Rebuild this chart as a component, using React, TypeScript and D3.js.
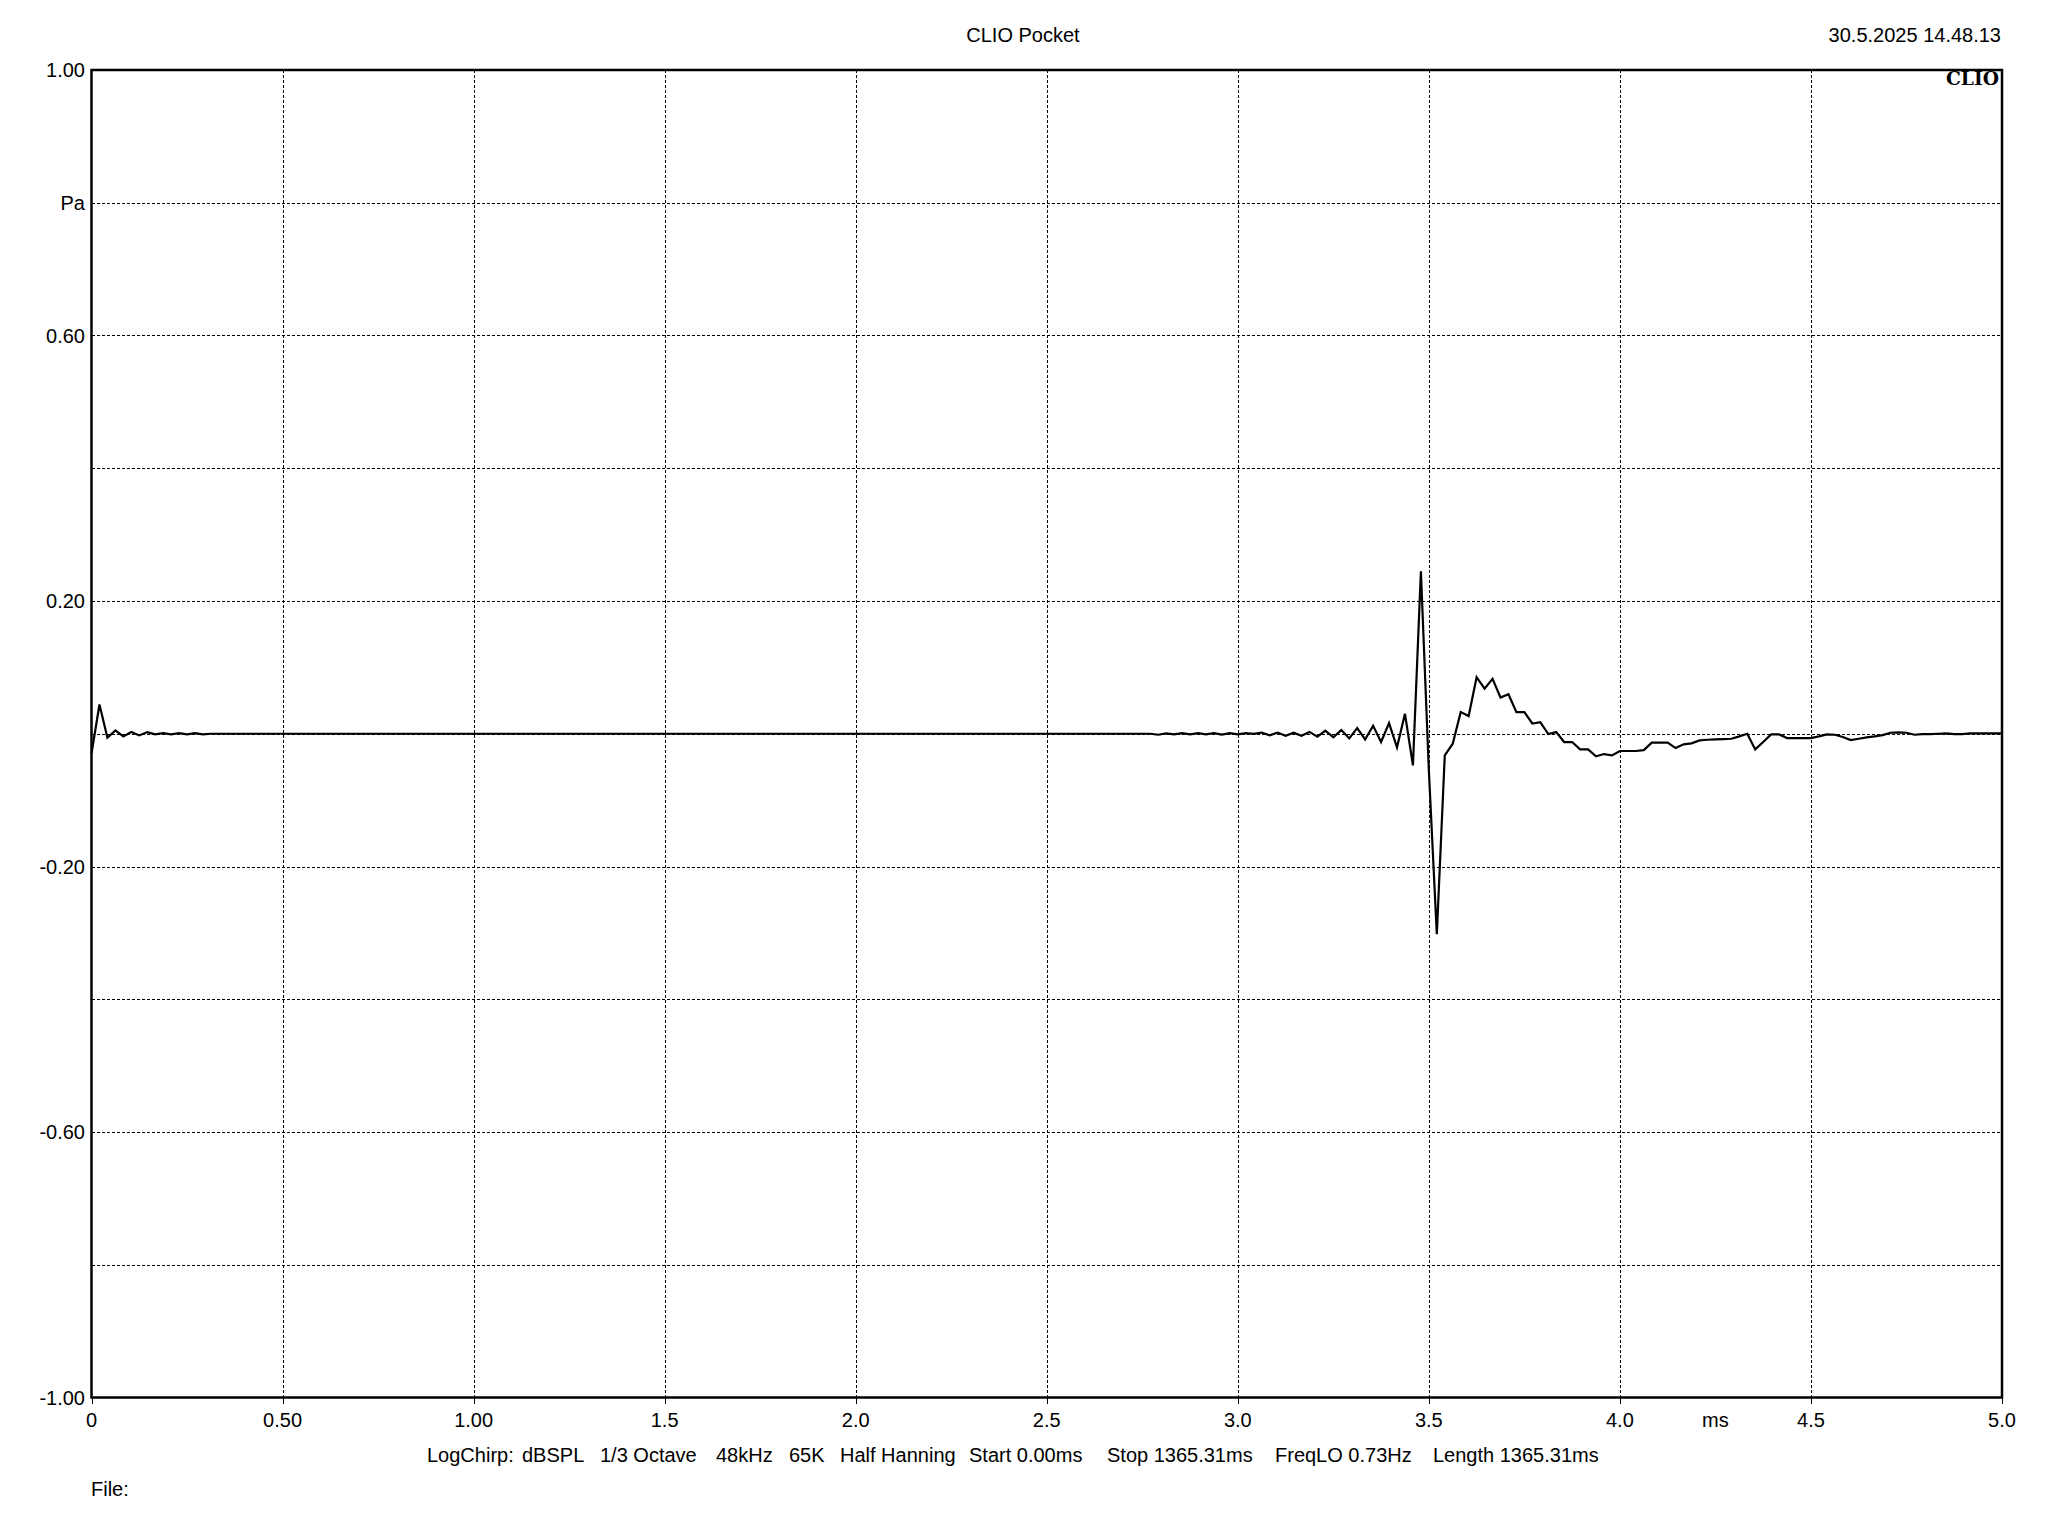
import React, { useEffect, useRef } from "react";
import * as d3 from "d3";

// sample clock of the measurement (48 kHz -> 48 samples per ms)
const samplesPerMs = 48;

// first samples of the impulse (n = 0..15), Pa
const headPa = [
  -0.03, 0.044, -0.006, 0.005, -0.004, 0.0025, -0.0025, 0.0025, -0.001, 0.001,
  -0.001, 0.001, -0.001, 0.001, -0.001, 0,
];

// main arrival, starting at sample 133, Pa
const tailStart = 133;
const tailPa = [
  0, -0.0015, 0.0005, -0.0008, 0.0008, -0.001, 0.0008, -0.001, 0.001, -0.0012,
  0.0008, -0.0008, 0.001, -0.0002, 0.0018, -0.0025, 0.0018, -0.003, 0.0015, -0.003,
  0.0028, -0.0043, 0.0048, -0.0053, 0.0055, -0.007, 0.0085, -0.0085, 0.012, -0.0125,
  0.016, -0.0205, 0.03, -0.0476, 0.2446, -0.055, -0.302, -0.0326, -0.015, 0.0326,
  0.0266, 0.0852, 0.068, 0.0827, 0.0546, 0.0596, 0.0326, 0.0326, 0.0155, 0.0175,
  -0.0005, 0.0025, -0.0125, -0.0125, -0.0236, -0.0236, -0.0341, -0.0306, -0.0326, -0.026,
  -0.026, -0.026, -0.0246, -0.0135, -0.0135, -0.0135, -0.0216, -0.016, -0.0145, -0.01,
  -0.009, -0.0085, -0.008, -0.0075, -0.004, 0, -0.0236, -0.0125, -0.001, -0.001,
  -0.0065, -0.0065, -0.0065, -0.0065, -0.004, -0.001, -0.0015, -0.005, -0.0095, -0.0075,
  -0.0055, -0.004, -0.002, 0.0015, 0.002, 0.0015, -0.0015, -0.0005, -0.0005, 0,
  0.0005, -0.0005, -0.0005, 0.0005, 0.0005, 0.0005, 0.0005, 0.0005,
];

const yTicks = [1, 0.8, 0.6, 0.4, 0.2, 0, -0.2, -0.4, -0.6, -0.8, -1];
const yLabels = ["1.00", "Pa", "0.60", "", "0.20", "", "-0.20", "", "-0.60", "", "-1.00"];
const xTicks = [0, 0.5, 1, 1.5, 2, 2.5, 3, 3.5, 4, 4.5, 5];
const xLabels = ["0", "0.50", "1.00", "1.5", "2.0", "2.5", "3.0", "3.5", "4.0", "4.5", "5.0"];
const xUnit = "ms";
const xUnitAt = 4.25;

const title = "CLIO Pocket";
const dateText = "30.5.2025 14.48.13";
const footerItems = [
  "LogChirp:", "dBSPL", "1/3 Octave", "48kHz", "65K", "Half Hanning",
  "Start 0.00ms", "Stop 1365.31ms", "FreqLO 0.73Hz", "Length 1365.31ms",
];
const footerX = [427, 522, 600, 716, 789, 840, 969, 1107, 1275, 1433];

type Pt = { t: number; v: number };

const App: React.FC = () => {
  const ref = useRef<SVGSVGElement>(null);

  useEffect(() => {
    drawChart();
  }, []);

  const drawChart = () => {
    const width = 2048;
    const height = 1536;
    const left = 91.5;
    const right = 2002;
    const top = 70;
    const bottom = 1397.5;
    const font = "'Liberation Sans', Arial, sans-serif";

    const x = d3.scaleLinear().domain([0, 5]).range([left, right]);
    const y = d3.scaleLinear().domain([-1, 1]).range([bottom, top]);

    const svg = d3.select(ref.current);
    svg.selectAll("*").remove();
    svg.attr("width", width).attr("height", height);

    svg.append("rect").attr("width", width).attr("height", height).attr("fill", "#fff");

    // grid
    const grid = svg.append("g").attr("stroke", "#000").attr("stroke-width", 1)
      .attr("stroke-dasharray", "3,2").attr("shape-rendering", "crispEdges");
    grid.selectAll("line.h")
      .data(yTicks.slice(1, -1))
      .join("line")
      .attr("class", "h")
      .attr("x1", left).attr("x2", right)
      .attr("y1", (d) => Math.round(y(d)) + 0.5).attr("y2", (d) => Math.round(y(d)) + 0.5);
    grid.selectAll("line.v")
      .data(xTicks.slice(1, -1))
      .join("line")
      .attr("class", "v")
      .attr("y1", top).attr("y2", bottom)
      .attr("x1", (d) => Math.round(x(d)) + 0.5).attr("x2", (d) => Math.round(x(d)) + 0.5);

    // x ticks below the axis
    svg.append("g").attr("stroke", "#000").attr("stroke-width", 1).attr("shape-rendering", "crispEdges")
      .selectAll("line")
      .data(xTicks)
      .join("line")
      .attr("x1", (d) => Math.round(x(d)) + 0.5).attr("x2", (d) => Math.round(x(d)) + 0.5)
      .attr("y1", bottom).attr("y2", bottom + 6);

    // signal
    const points: Pt[] = [
      ...headPa.map((v, i) => ({ t: i / samplesPerMs, v })),
      ...tailPa.map((v, i) => ({ t: (tailStart + i) / samplesPerMs, v })),
    ];
    const line = d3.line<Pt>().x((d) => x(d.t)).y((d) => y(d.v));
    svg.append("path")
      .datum(points)
      .attr("d", line)
      .attr("fill", "none")
      .attr("stroke", "#000")
      .attr("stroke-width", 2.2)
      .attr("stroke-linejoin", "miter");

    // frame
    svg.append("rect")
      .attr("x", left).attr("y", top)
      .attr("width", right - left).attr("height", bottom - top)
      .attr("fill", "none").attr("stroke", "#000").attr("stroke-width", 2.5);

    const text = svg.append("g").attr("font-family", font).attr("font-size", 20).attr("fill", "#000");

    // y labels
    text.selectAll("text.y")
      .data(yTicks.map((d, i) => ({ d, label: yLabels[i] })).filter((e) => e.label))
      .join("text")
      .attr("class", "y")
      .attr("x", 85)
      .attr("y", (e) => y(e.d) + 7)
      .attr("text-anchor", "end")
      .text((e) => e.label);

    // x labels
    text.selectAll("text.x")
      .data(xTicks.map((d, i) => ({ d, label: xLabels[i] })))
      .join("text")
      .attr("class", "x")
      .attr("x", (e) => x(e.d))
      .attr("y", 1427)
      .attr("text-anchor", "middle")
      .text((e) => e.label);
    text.append("text").attr("x", x(xUnitAt)).attr("y", 1427)
      .attr("text-anchor", "middle").text(xUnit);

    // header
    text.append("text").attr("x", 1023).attr("y", 41.5).attr("text-anchor", "middle").text(title);
    text.append("text").attr("x", 2001).attr("y", 41.5).attr("text-anchor", "end").text(dateText);

    // footer
    text.selectAll("text.f")
      .data(footerItems)
      .join("text")
      .attr("class", "f")
      .attr("x", (_, i) => footerX[i])
      .attr("y", 1462)
      .text((d) => d);
    text.append("text").attr("x", 91).attr("y", 1496).text("File:");

    // logo
    svg.append("text")
      .attr("x", 1999).attr("y", 85)
      .attr("text-anchor", "end")
      .attr("font-family", "'DejaVu Serif', 'Liberation Serif', serif")
      .attr("font-weight", "bold")
      .attr("font-size", 19)
      .attr("textLength", 53)
      .attr("lengthAdjust", "spacingAndGlyphs")
      .text("CLIO");
  };

  return <svg ref={ref} style={{ position: "absolute", left: 0, top: 0, display: "block" }} />;
};

export default App;
